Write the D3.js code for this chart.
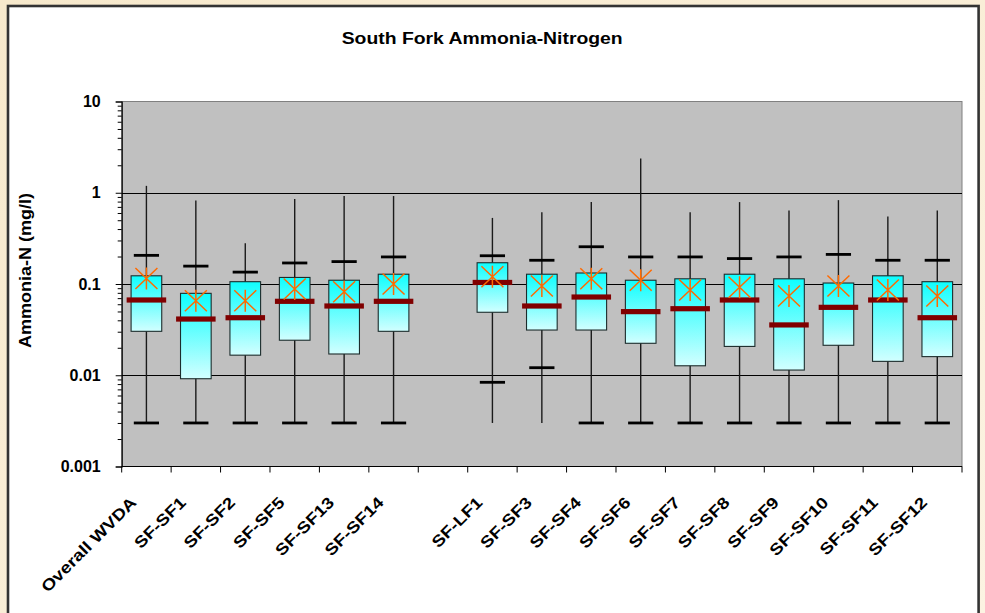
<!DOCTYPE html>
<html><head><meta charset="utf-8">
<script src="https://cdn.jsdelivr.net/npm/d3@7"></script>
<style>
html,body{margin:0;padding:0;background:#f8ecd3;}
svg{display:block;}
text{font-family:"Liberation Sans",Arial,sans-serif;font-weight:bold;fill:#000;}
</style></head><body>
<svg id="chart" width="985" height="613"></svg>
<script>
const categories = ["Overall WVDA","SF-SF1","SF-SF2","SF-SF5","SF-SF13","SF-SF14","","SF-LF1","SF-SF3","SF-SF4","SF-SF6","SF-SF7","SF-SF8","SF-SF9","SF-SF10","SF-SF11","SF-SF12"];
const maxValues  = [1.19, 0.82, 0.28, 0.855, 0.92, 0.92, null, 0.53, 0.61, 0.79, 2.38, 0.61, 0.79, 0.64, 0.83, 0.55, 0.64];
const upperCaps  = [0.206, 0.157, 0.135, 0.170, 0.176, 0.198, null, 0.204, 0.182, 0.256, 0.198, 0.198, 0.190, 0.198, 0.211, 0.182, 0.182];
const q3Values   = [0.123, 0.079, 0.106, 0.118, 0.110, 0.128, null, 0.171, 0.128, 0.132, 0.110, 0.114, 0.128, 0.114, 0.1025, 0.123, 0.106];
const medians    = [0.0668, 0.0413, 0.0427, 0.0646, 0.0574, 0.0646, null, 0.104, 0.0574, 0.072, 0.0498, 0.0536, 0.0668, 0.0356, 0.0555, 0.0668, 0.0427];
const q1Values   = [0.0303, 0.00916, 0.0166, 0.0242, 0.0171, 0.0303, null, 0.049, 0.0313, 0.0313, 0.0224, 0.0127, 0.0207, 0.0114, 0.0213, 0.0142, 0.016];
const lowerCaps  = [0.003, 0.003, 0.003, 0.003, 0.003, 0.003, null, 0.00837, 0.0121, 0.003, 0.003, 0.003, 0.003, 0.003, 0.003, 0.003, 0.003];
const minValues  = [0.003, 0.003, 0.003, 0.003, 0.003, 0.003, null, 0.003, 0.003, 0.003, 0.003, 0.003, 0.003, 0.003, 0.003, 0.003, 0.003];
const means      = [0.115, 0.0656, 0.0656, 0.088, 0.0824, 0.100, null, 0.120, 0.095, 0.114, 0.110, 0.086, 0.092, 0.0738, 0.095, 0.086, 0.0738];
const yTickValues = [0.001, 0.01, 0.1, 1, 10];
const yTickLabels = ["0.001", "0.01", "0.1", "1", "10"];
const gridValues = [0.01, 0.1, 1];
const titleText = "South Fork Ammonia-Nitrogen";
const yAxisTitle = "Ammonia-N (mg/l)";

const svg = d3.select("#chart");
const defs = svg.append("defs");
const bg = defs.append("linearGradient").attr("id","bg").attr("x1",0).attr("y1",0).attr("x2",1).attr("y2",1);
bg.append("stop").attr("offset","0%").attr("stop-color","#f7e9cc");
bg.append("stop").attr("offset","100%").attr("stop-color","#fcf3e2");
const g = defs.append("linearGradient").attr("id","boxfill").attr("x1",0).attr("y1",0).attr("x2",0).attr("y2",1);
g.append("stop").attr("offset","0%").attr("stop-color","#0ffefe");
g.append("stop").attr("offset","100%").attr("stop-color","#d2ffff");

svg.append("rect").attr("width",985).attr("height",613).attr("fill","url(#bg)");
svg.append("rect").attr("x",8).attr("y",6).attr("width",970.6).attr("height",650)
  .attr("fill","#fff").attr("stroke","#333").attr("stroke-width",2.6);

const L = 121.7, R = 962, T = 101.5, B = 466.5;
const x = d3.scaleBand().domain(categories).range([L, R]).padding(0);
const y = d3.scaleLog().domain([0.001, 10]).range([B, T]);
const bw = x.bandwidth();

// plot area
svg.append("rect").attr("x",L).attr("y",T).attr("width",R-L).attr("height",B-T)
  .attr("fill","#c0c0c0").attr("stroke","#808080").attr("stroke-width",1);

// gridlines
svg.append("g").selectAll("line").data(gridValues).join("line")
  .attr("x1",L).attr("x2",R).attr("y1",d=>Math.round(y(d))+0.5).attr("y2",d=>Math.round(y(d))+0.5)
  .attr("stroke","#000").attr("stroke-width",1);

// y axis minor ticks
const minorVals = [];
[0.001,0.01,0.1,1].forEach(dec=>{ for(let k=2;k<=9;k++) minorVals.push(dec*k); });
svg.append("g").attr("transform",`translate(${L},0)`)
  .call(d3.axisLeft(y).tickValues(minorVals).tickSize(4).tickFormat(""))
  .call(s=>s.select(".domain").remove())
  .selectAll("line").attr("stroke","#000");

// y axis major
const yAxis = svg.append("g").attr("transform",`translate(${L},0)`)
  .call(d3.axisLeft(y).tickValues(yTickValues).tickSize(6).tickPadding(15)
    .tickFormat((d,i)=>yTickLabels[i]));
yAxis.select(".domain").attr("stroke","#000").attr("stroke-width",1.2);
yAxis.selectAll("line").attr("stroke","#000");
yAxis.selectAll("text").style("font-size","16px").style("font-family","'Liberation Sans',Arial,sans-serif").style("font-weight","bold");

// x axis line & ticks at band boundaries
svg.append("line").attr("x1",L).attr("x2",R).attr("y1",B).attr("y2",B).attr("stroke","#000").attr("stroke-width",1.2);
const bounds = categories.map(c=>x(c)).concat([R]);
svg.append("g").selectAll("line").data(bounds).join("line")
  .attr("x1",d=>d).attr("x2",d=>d).attr("y1",B).attr("y2",B+6).attr("stroke","#000").attr("stroke-width",1);

// x labels
const xl = svg.append("g").selectAll("text").data(categories).join("text")
  .attr("text-anchor","end")
  .attr("transform",d=>`translate(${x(d)+bw/2-9},${B+37}) rotate(-45)`)
  .style("font-size","16px")
  .text(d=>d);
xl.each(function(){ const n=this.getComputedTextLength(); if(n>0){ d3.select(this).attr("textLength",n*1.18).attr("lengthAdjust","spacingAndGlyphs"); } });

// boxes
const idx = d3.range(categories.length).filter(i=>medians[i]!=null);
const bx = svg.append("g");
bx.selectAll("line.whisk").data(idx).join("line").attr("class","whisk")
  .attr("x1",i=>x(categories[i])+bw/2).attr("x2",i=>x(categories[i])+bw/2)
  .attr("y1",i=>y(minValues[i])).attr("y2",i=>y(maxValues[i]))
  .attr("stroke","#1a1a1a").attr("stroke-width",1.4);
bx.selectAll("rect.ucap").data(idx).join("rect").attr("class","ucap")
  .attr("x",i=>x(categories[i])+bw/2-bw*0.255).attr("width",bw*0.51)
  .attr("y",i=>y(upperCaps[i])-1.4).attr("height",2.8).attr("fill","#000");
bx.selectAll("rect.lcap").data(idx).join("rect").attr("class","lcap")
  .attr("x",i=>x(categories[i])+bw/2-bw*0.255).attr("width",bw*0.51)
  .attr("y",i=>y(lowerCaps[i])-1.4).attr("height",2.8).attr("fill","#000");
bx.selectAll("rect.box").data(idx).join("rect").attr("class","box")
  .attr("x",i=>x(categories[i])+bw/2-bw*0.31).attr("width",bw*0.62)
  .attr("y",i=>y(q3Values[i])).attr("height",i=>y(q1Values[i])-y(q3Values[i]))
  .attr("fill","url(#boxfill)").attr("stroke","#1c2c2c").attr("stroke-width",1.1);
bx.selectAll("rect.med").data(idx).join("rect").attr("class","med")
  .attr("x",i=>x(categories[i])+bw/2-bw*0.4).attr("width",bw*0.8)
  .attr("y",i=>y(medians[i])-2.6).attr("height",5.2).attr("fill","#800000");
bx.selectAll("path.mean").data(idx).join("path").attr("class","mean")
  .attr("transform",i=>`translate(${x(categories[i])+bw/2},${y(means[i])})`)
  .attr("d","M-11,-10.5L11,10.5M-11,10.5L11,-10.5M0,-11L0,11")
  .attr("fill","none").attr("stroke","#ff6a00").attr("stroke-width",1.5);

// title
const t = svg.append("text").attr("x",482.2).attr("y",43.5).attr("text-anchor","middle")
  .style("font-size","16px").text(titleText);
t.attr("textLength",281).attr("lengthAdjust","spacingAndGlyphs");

// y axis title
svg.append("text").attr("transform","translate(31,270.5) rotate(-90)").attr("text-anchor","middle")
  .style("font-size","16px").attr("textLength",155).attr("lengthAdjust","spacingAndGlyphs").text(yAxisTitle);
</script>
</body></html>
